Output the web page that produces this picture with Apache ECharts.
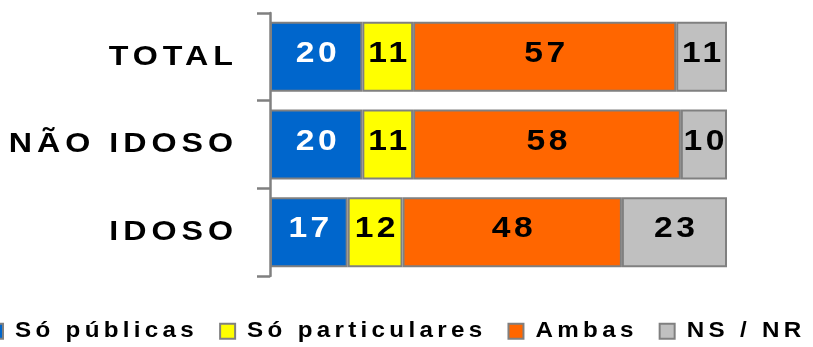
<!DOCTYPE html>
<html>
<head>
<meta charset="utf-8">
<script src="https://cdn.jsdelivr.net/npm/echarts@6/dist/echarts.min.js"></script>
</head>
<body style="margin:0;background:#fff">
<div id="c" style="width:813px;height:347px"></div>
<script>
const categories = ['TOTAL', 'NÃO IDOSO', 'IDOSO'];
const seriesNames = ['Só públicas', 'Só particulares', 'Ambas', 'NS / NR'];
const soPublicas = [20, 20, 17];
const soParticulares = [11, 11, 12];
const ambas = [57, 58, 48];
const nsNr = [11, 10, 23];

// The reference text is wide and letter-spaced: per font size, a horizontal
// stretch k and a letter spacing s (px) applied when the text is drawn/measured.
const TEXT_FX = {28: {k: 1.15, s: 5}, 30: {k: 1.12, s: 3.5}, 22: {k: 1.1, s: 4.3}};
function fxFor(font) {
  const m = /(\d+(?:\.\d+)?)px/.exec(font || '');
  return m ? TEXT_FX[Math.round(parseFloat(m[1]))] || null : null;
}
const P = CanvasRenderingContext2D.prototype;
if ('letterSpacing' in P) {
  const origFill = P.fillText, origMeasure = P.measureText;
  P.fillText = function (t, x, y, w) {
    const f = fxFor(this.font);
    if (!f) {
      this.letterSpacing = '0px';
      return w === undefined ? origFill.call(this, t, x, y) : origFill.call(this, t, x, y, w);
    }
    this.save();
    this.letterSpacing = (f.s / f.k) + 'px';
    this.translate(x, y);
    this.scale(f.k, 1);
    origFill.call(this, t, 0, 0);
    this.restore();
  };
  P.measureText = function (t) {
    const f = fxFor(this.font);
    this.letterSpacing = f ? (f.s / f.k) + 'px' : '0px';
    const m = origMeasure.call(this, t);
    if (!f) return m;
    return {
      width: m.width * f.k,
      actualBoundingBoxAscent: m.actualBoundingBoxAscent,
      actualBoundingBoxDescent: m.actualBoundingBoxDescent,
      actualBoundingBoxLeft: m.actualBoundingBoxLeft * f.k,
      actualBoundingBoxRight: m.actualBoundingBoxRight * f.k,
      fontBoundingBoxAscent: m.fontBoundingBoxAscent,
      fontBoundingBoxDescent: m.fontBoundingBoxDescent
    };
  };
}

const raw = [soPublicas, soParticulares, ambas, nsNr];
const totals = categories.map((c, i) => raw.reduce((s, arr) => s + arr[i], 0));
const colors = ['#0066CC', '#FFFF00', '#FF6600', '#C0C0C0'];
const labelColors = ['#FFFFFF', '#000000', '#000000', '#000000'];
const FONT = "'Liberation Sans', Arial, sans-serif";

const chart = echarts.init(document.getElementById('c'));
chart.setOption({
  animation: false,
  backgroundColor: '#FFFFFF',
  grid: {left: 270, right: 86, top: 13, bottom: 71},
  xAxis: {type: 'value', min: 0, max: 100, show: false},
  yAxis: {
    type: 'category',
    inverse: true,
    data: categories,
    axisLine: {show: true, lineStyle: {color: '#808080', width: 2.5}},
    axisTick: {show: true, length: 13, lineStyle: {color: '#808080', width: 2.5}},
    axisLabel: {margin: 32, fontSize: 28, fontWeight: 'bold', color: '#000', fontFamily: FONT},
    splitLine: {show: false}
  },
  legend: {
    data: seriesNames,
    icon: 'rect',
    left: -13,
    top: 317,
    padding: 0,
    itemWidth: 15,
    itemHeight: 15,
    itemGap: 21,
    textStyle: {fontSize: 22, fontWeight: 'bold', color: '#000', fontFamily: FONT, padding: [0, 0, 0, 7]}
  },
  series: raw.map((arr, k) => ({
    name: seriesNames[k],
    type: 'bar',
    stack: 'all',
    barWidth: 70,
    data: arr.map((v, i) => v / totals[i] * 100),
    itemStyle: {color: colors[k], borderColor: '#808080', borderWidth: 2},
    label: {
      show: true,
      position: 'inside',
      offset: [1.75, -3],
      fontSize: 30,
      fontWeight: 'bold',
      fontFamily: FONT,
      color: labelColors[k],
      formatter: p => String(arr[p.dataIndex])
    }
  }))
});
</script>
</body>
</html>
